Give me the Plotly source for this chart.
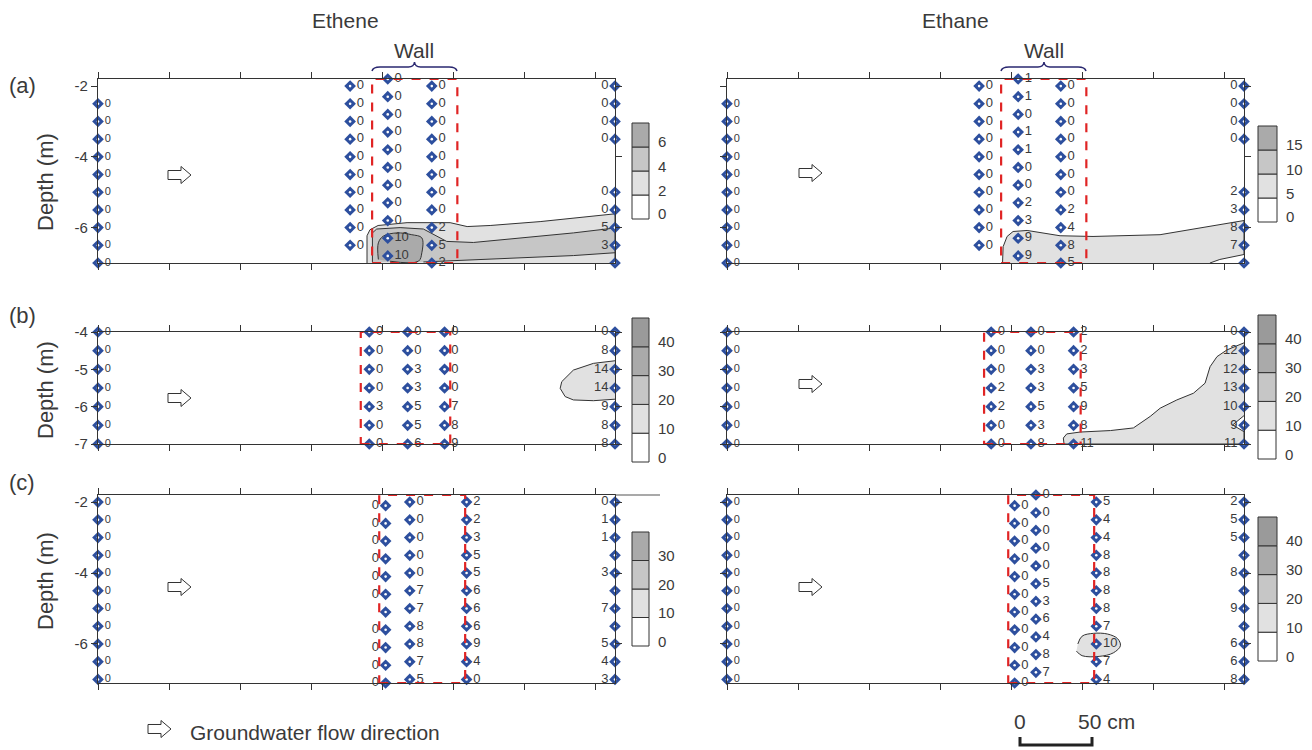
import plotly.graph_objects as go

W, H = 1312, 750
OX, OY = 8, 8   # page offset compensation

# ---------------- sampling depths (m) ----------------
DEPTH_A_EDGE = [-2.5, -3.0, -3.5, -4.0, -4.5, -5.0, -5.5, -6.0, -6.5, -7.0]
DEPTH_A_MID = [-2.0, -2.5, -3.0, -3.5, -4.0, -4.5, -5.0, -5.5, -6.0, -6.5]
DEPTH_OFFSET = [-1.8, -2.3, -2.8, -3.3, -3.8, -4.3, -4.8, -5.3, -5.8, -6.3, -6.8]
DEPTH_FULL = [-2.0, -2.5, -3.0, -3.5, -4.0, -4.5, -5.0, -5.5, -6.0, -6.5, -7.0]
DEPTH_A_RIGHT = [-2.0, -2.5, -3.0, -3.5, -5.0, -5.5, -6.0, -6.5, -7.0]
DEPTH_B = [-4.0, -4.5, -5.0, -5.5, -6.0, -6.5, -7.0]
DEPTH_B_OUT = [-3.5, -7.5]
DEPTH_C_WALL = [-2.1, -2.6, -3.1, -3.6, -4.1, -4.6, -5.1, -5.6, -6.1, -6.6, -7.1]

# ---------------- well positions (cm along transect) ----------------
A_ETHENE_X = [0, 177.5, 204, 235, 364]
A_ETHANE_X = [0, 177.5, 205, 235, 364]
B_ETHENE_X = [0, 191, 218, 244, 364]
B_ETHANE_X = [0, 186, 214, 244, 364]
C_ETHENE_X = [0, 202.5, 219.5, 259.5, 364]
C_ETHANE_X = [0, 202.5, 217.5, 260, 364]

# ---------------- concentrations at each well ----------------
A_ETHENE_W1 = [0, 0, 0, 0, 0, 0, 0, 0, 0, 0]
A_ETHENE_W2 = [0, 0, 0, 0, 0, 0, 0, 0, 0, 0]
A_ETHENE_W3 = [0, 0, 0, 0, 0, 0, 0, 0, 0, 10, 10]
A_ETHENE_W4 = [0, 0, 0, 0, 0, 0, 0, 0, 2, 5, 2]
A_ETHENE_W5 = [0, 0, 0, 0, 0, 0, 5, 3, None]

A_ETHANE_W1 = [0, 0, 0, 0, 0, 0, 0, 0, 0, 0]
A_ETHANE_W2 = [0, 0, 0, 0, 0, 0, 0, 0, 0, 0]
A_ETHANE_W3 = [1, 1, 0, 1, 1, 0, 0, 2, 3, 9, 9]
A_ETHANE_W4 = [0, 0, 0, 0, 0, 0, 0, 2, 4, 8, 5]
A_ETHANE_W5 = [0, 0, 0, 0, 2, 3, 8, 7, None]

B_ETHENE_W1 = [0, 0, 0, 0, 0, 0, 0]
B_ETHENE_W2 = [0, 0, 0, 0, 3, 0, 0]
B_ETHENE_W3 = [0, 0, 3, 3, 5, 5, 6]
B_ETHENE_W4 = [0, 0, 0, 0, 7, 8, 9]
B_ETHENE_W5 = [0, 8, 14, 14, 9, 8, 8]
B_ETHENE_W2_OUT = [0, 22]
B_ETHENE_W3_OUT = [0, 14]

B_ETHANE_W1 = [0, 0, 0, 0, 0, 0, 0]
B_ETHANE_W2 = [0, 0, 0, 2, 2, 0, 0]
B_ETHANE_W3 = [0, 0, 3, 3, 5, 3, 8]
B_ETHANE_W4 = [2, 2, 3, 5, 9, 8, 11]
B_ETHANE_W5 = [0, 12, 12, 13, 10, 9, 11]
B_ETHANE_W2_OUT = [0, None]
B_ETHANE_W3_OUT = [0, None]

C_ETHENE_W1 = [0, 0, 0, 0, 0, 0, 0, 0, 0, 0, 0]
C_ETHENE_W2 = [0, 0, 0, 0, 0, 0, None, 0, 0, 0, 0]
C_ETHENE_W3 = [0, 0, 0, 0, 0, 7, 7, 8, 8, 7, 5]
C_ETHENE_W4 = [2, 2, 3, 5, 5, 6, 6, 6, 9, 4, 0]
C_ETHENE_W5 = [0, 1, 1, None, 3, None, 7, None, 5, 4, 3]

C_ETHANE_W1 = [0, 0, 0, 0, 0, 0, 0, 0, 0, 0, 0]
C_ETHANE_W2 = [0, 0, 0, 0, 0, 0, 0, 0, 0, 0, 0]
C_ETHANE_W3 = [0, 0, 0, 0, 0, 5, 3, 6, 4, 8, 7]
C_ETHANE_W4 = [5, 4, 4, 8, 8, 8, 8, 7, 10, 7, 4]
C_ETHANE_W5 = [2, 5, 5, None, 8, None, 9, None, 6, 6, 8]

# ---------------- wall extents (cm) ----------------
WALL_A = [193, 253]
WALL_B_ETHENE = [185, 248]
WALL_B_ETHANE = [181, 249]
WALL_C = [198, 258.5]

# ---------------- contour regions (cm, m) ----------------
A_ETHENE_LOW_X = [189.4, 189.4, 191.5, 197.2, 217.6, 247.9, 259.9, 276.1, 311.3, 364, 364]
A_ETHENE_LOW_Y = [-7.0, -6.23, -6.06, -5.94, -5.86, -5.86, -5.97, -5.94, -5.83, -5.61, -7.0]
A_ETHENE_MID_X = [193.2, 193.2, 196.2, 212.7, 229.1, 236.2, 245.5, 264.3, 299.5, 334.7, 364,
                  364, 334.7, 299.5, 264.3, 240.8, 229.1]
A_ETHENE_MID_Y = [-6.97, -6.15, -6.04, -6.0, -6.04, -6.2, -6.39, -6.42, -6.29, -6.15, -6.01,
                  -6.71, -6.79, -6.85, -6.9, -6.95, -6.97]
A_ETHENE_HIGH_X = [197.4, 197.4, 200.9, 210.4, 220.9, 228, 228, 225.6, 205.6]
A_ETHENE_HIGH_Y = [-6.9, -6.43, -6.24, -6.15, -6.2, -6.29, -6.71, -6.95, -6.95]

A_ETHANE_LOW_X = [194, 194.4, 197.2, 201.4, 211.3, 234.5, 257.7, 304.9, 364, 364, 347, 340]
A_ETHANE_LOW_Y = [-7.0, -6.54, -6.25, -6.11, -6.08, -6.23, -6.25, -6.2, -5.8, -6.76, -6.9, -7.0]

B_ETHENE_LOW_X = [364, 348.8, 334.7, 326.5, 325.4, 328.9, 334.7, 348.8, 364]
B_ETHENE_LOW_Y = [-4.77, -4.84, -5.02, -5.33, -5.51, -5.73, -5.82, -5.84, -5.8]

B_ETHANE_LOW_X = [364, 352, 345, 340.1, 336.6, 328.4, 316.7, 305, 298, 286.1, 270, 248.6, 239.2,
                  236.8, 237.3, 364, 364, 356, 364]
B_ETHANE_LOW_Y = [-4.29, -4.48, -4.66, -4.93, -5.37, -5.64, -5.82, -6.04, -6.26, -6.57, -6.64,
                  -6.68, -6.73, -6.84, -7.0, -7.0, -6.67, -6.49, -6.24]

C_ETHANE_LOW_X = [247, 250, 258, 268, 275, 277, 272, 262, 250, 246]
C_ETHANE_LOW_Y = [-6.0, -5.78, -5.7, -5.72, -5.85, -6.05, -6.25, -6.35, -6.33, -6.2]

# ---------------- legend levels ----------------
LEVELS_A_ETHENE = [0, 2, 4, 6]
LEVELS_A_ETHANE = [0, 5, 10, 15]
LEVELS_B_ETHENE = [0, 10, 20, 30, 40]
LEVELS_B_ETHANE = [0, 10, 20, 30, 40]
LEVELS_C_ETHENE = [0, 10, 20, 30]
LEVELS_C_ETHANE = [0, 10, 20, 30, 40]

COLUMN_TITLES = ["Ethene", "Ethane"]
ROW_TAGS = ["(a)", "(b)", "(c)"]
X_TICKS = [0, 50, 100, 150, 200, 250, 300, 350]
Y_TICKS = [[-2, -4, -6], [-4, -5, -6, -7], [-2, -4, -6]]
Y_RANGES = [[-7.0, -1.8], [-7.0, -4.0], [-7.1, -1.8]]

# ---------------- styling / layout geometry ----------------
LIGHT, MID, DARK, DARKEST = "#e1e1e1", "#c6c6c6", "#aaaaaa", "#9a9a9a"
CELL_COLORS = ["#ffffff", LIGHT, MID, DARK, DARKEST]
MARKER_BLUE = "#2d4f9e"
FADED_BLUE = "#a3b4dc"
TXT = "#3a3a3a"
WALL_RED = "#e02424"
NUM_FONT = "Liberation Sans Narrow, Liberation Sans, Arial"
MAIN_FONT = "Liberation Sans, Arial"

COL_PX = [(98, 615), (727, 1244)]
ROW_PX = [(79, 263), (332, 444), (495, 683)]
LEGEND_PX = [(632, 649, 123, 219), (1258, 1277, 126, 222),
             (632, 649, 318, 462), (1258, 1276, 315, 459),
             (632, 649, 532, 646), (1258, 1277, 517, 661)]
ARROW_PX = [(168, 175), (799, 173), (168, 398), (799, 384), (168, 587), (799, 587)]


def px(x):
    return (x - OX) / W


def py(y):
    return 1 - (y - OY) / H


def wells(xs, depth_lists, values, sides, sizes):
    return [dict(x=x, d=d, v=v, side=s, size=z)
            for x, d, v, s, z in zip(xs, depth_lists, values, sides, sizes)]


PANELS = [
    dict(wells=wells(A_ETHENE_X, [DEPTH_A_EDGE, DEPTH_A_MID, DEPTH_OFFSET, DEPTH_FULL, DEPTH_A_RIGHT],
                     [A_ETHENE_W1, A_ETHENE_W2, A_ETHENE_W3, A_ETHENE_W4, A_ETHENE_W5],
                     "RRRRL", [11, 13, 13, 13, 13]),
         polys=[(A_ETHENE_LOW_X, A_ETHENE_LOW_Y, LIGHT, False),
                (A_ETHENE_MID_X, A_ETHENE_MID_Y, MID, False),
                (A_ETHENE_HIGH_X, A_ETHENE_HIGH_Y, DARK, True)],
         wall=WALL_A, levels=LEVELS_A_ETHENE, out=None),
    dict(wells=wells(A_ETHANE_X, [DEPTH_A_EDGE, DEPTH_A_MID, DEPTH_OFFSET, DEPTH_FULL, DEPTH_A_RIGHT],
                     [A_ETHANE_W1, A_ETHANE_W2, A_ETHANE_W3, A_ETHANE_W4, A_ETHANE_W5],
                     "RRRRL", [11, 13, 13, 13, 13]),
         polys=[(A_ETHANE_LOW_X, A_ETHANE_LOW_Y, LIGHT, False)],
         wall=WALL_A, levels=LEVELS_A_ETHANE, out=None),
    dict(wells=wells(B_ETHENE_X, [DEPTH_B] * 5,
                     [B_ETHENE_W1, B_ETHENE_W2, B_ETHENE_W3, B_ETHENE_W4, B_ETHENE_W5],
                     "RRRRL", [11, 13, 13, 13, 13]),
         polys=[(B_ETHENE_LOW_X, B_ETHENE_LOW_Y, LIGHT, False)],
         wall=WALL_B_ETHENE, levels=LEVELS_B_ETHENE,
         out=[(B_ETHENE_X[1], B_ETHENE_W2_OUT), (B_ETHENE_X[2], B_ETHENE_W3_OUT)]),
    dict(wells=wells(B_ETHANE_X, [DEPTH_B] * 5,
                     [B_ETHANE_W1, B_ETHANE_W2, B_ETHANE_W3, B_ETHANE_W4, B_ETHANE_W5],
                     "RRRRL", [11, 13, 13, 13, 13]),
         polys=[(B_ETHANE_LOW_X, B_ETHANE_LOW_Y, LIGHT, False)],
         wall=WALL_B_ETHANE, levels=LEVELS_B_ETHANE,
         out=[(B_ETHANE_X[1], B_ETHANE_W2_OUT), (B_ETHANE_X[2], B_ETHANE_W3_OUT)]),
    dict(wells=wells(C_ETHENE_X, [DEPTH_FULL, DEPTH_C_WALL, DEPTH_FULL, DEPTH_FULL, DEPTH_FULL],
                     [C_ETHENE_W1, C_ETHENE_W2, C_ETHENE_W3, C_ETHENE_W4, C_ETHENE_W5],
                     "RLRRL", [11, 13, 13, 13, 13]),
         polys=[],
         wall=WALL_C, levels=LEVELS_C_ETHENE, out=None),
    dict(wells=wells(C_ETHANE_X, [DEPTH_FULL, DEPTH_C_WALL, DEPTH_OFFSET, DEPTH_FULL, DEPTH_FULL],
                     [C_ETHANE_W1, C_ETHANE_W2, C_ETHANE_W3, C_ETHANE_W4, C_ETHANE_W5],
                     "RRRRL", [11, 13, 13, 13, 13]),
         polys=[(C_ETHANE_LOW_X, C_ETHANE_LOW_Y, LIGHT, True)],
         wall=WALL_C, levels=LEVELS_C_ETHANE, out=None),
]

fig = go.Figure()
shapes = []
annotations = []
layout_axes = {}


def add_points(xs, ys, labels, side, size, blue, txt_color, xr, yr):
    # filled diamond with a small white centre, value written beside it
    fig.add_trace(go.Scatter(
        x=xs, y=ys, mode="markers+text",
        text=["" if v is None else str(v) for v in labels],
        textposition="middle left" if side == "L" else "middle right",
        textfont=dict(size=size, color=txt_color, family=NUM_FONT),
        marker=dict(symbol="diamond", size=9, color=blue, line=dict(width=0)),
        cliponaxis=False, xaxis=xr, yaxis=yr, hoverinfo="skip"))
    fig.add_trace(go.Scatter(
        x=xs, y=ys, mode="markers",
        marker=dict(symbol="circle", size=2.6, color="white", line=dict(width=0)),
        cliponaxis=False, xaxis=xr, yaxis=yr, hoverinfo="skip"))


for i, panel in enumerate(PANELS, start=1):
    row, col = (i - 1) // 2, (i - 1) % 2
    xr = "x" if i == 1 else f"x{i}"
    yr = "y" if i == 1 else f"y{i}"
    xkey = "xaxis" if i == 1 else f"xaxis{i}"
    ykey = "yaxis" if i == 1 else f"yaxis{i}"
    x0p, x1p = COL_PX[col]
    y0p, y1p = ROW_PX[row]
    layout_axes[xkey] = dict(domain=[px(x0p), px(x1p)], range=[0, 364], anchor=yr,
                             tickvals=X_TICKS, showticklabels=False, ticks="outside",
                             ticklen=6, tickwidth=1.2, tickcolor="#333",
                             showline=True, linecolor="#333", linewidth=1.3, mirror="ticks",
                             showgrid=False, zeroline=False, fixedrange=True, automargin=False)
    layout_axes[ykey] = dict(domain=[py(y1p), py(y0p)], range=Y_RANGES[row], anchor=xr,
                             tickvals=Y_TICKS[row],
                             ticktext=[str(t) for t in Y_TICKS[row]],
                             showticklabels=(col == 0), ticks="outside", ticklen=6,
                             tickwidth=1.2, tickcolor="#333",
                             tickfont=dict(size=15, color=TXT, family=MAIN_FONT),
                             showline=True, linecolor="#333", linewidth=1.3, mirror="ticks",
                             showgrid=False, zeroline=False, fixedrange=True, automargin=False)

    for xs, ys, fc, spline in panel["polys"]:
        fig.add_trace(go.Scatter(x=xs, y=ys, mode="lines", fill="toself", fillcolor=fc,
                                 line=dict(color="#333333", width=1,
                                           shape="spline" if spline else "linear"),
                                 xaxis=xr, yaxis=yr, hoverinfo="skip"))

    shapes.append(dict(type="rect", xref=xr, yref=yr, x0=panel["wall"][0], x1=panel["wall"][1],
                       y0=Y_RANGES[row][0], y1=Y_RANGES[row][1],
                       line=dict(color=WALL_RED, width=2.2, dash="dash"), layer="above"))

    for w in panel["wells"]:
        add_points([w["x"]] * len(w["d"]), w["d"], w["v"], w["side"], w["size"],
                   MARKER_BLUE, TXT, xr, yr)
    if panel["out"]:
        for wx, vals in panel["out"]:
            add_points([wx] * len(DEPTH_B_OUT), DEPTH_B_OUT, vals, "R", 13,
                       FADED_BLUE, "#c4c4c4", xr, yr)

    lx0, lx1, ly0, ly1 = LEGEND_PX[i - 1]
    levels = panel["levels"]
    n = len(levels)
    ch = (ly1 - ly0) / n
    for k, lev in enumerate(levels):
        cb = ly1 - k * ch
        shapes.append(dict(type="rect", xref="paper", yref="paper",
                           x0=px(lx0), x1=px(lx1), y0=py(cb), y1=py(cb - ch),
                           fillcolor=CELL_COLORS[k], line=dict(color="#333", width=1)))
        annotations.append(dict(x=px(lx1 + 7), y=py(cb - 5), xref="paper", yref="paper",
                                text=str(lev), showarrow=False, xanchor="left", yanchor="middle",
                                font=dict(size=15, color=TXT, family=MAIN_FONT)))

    ax, ay = ARROW_PX[i - 1]
    pts = [(ax, ay - 4.5), (ax + 13, ay - 4.5), (ax + 13, ay - 8.5), (ax + 23, ay),
           (ax + 13, ay + 8.5), (ax + 13, ay + 4.5), (ax, ay + 4.5)]
    path = "M " + " L ".join(f"{px(a):.5f},{py(b):.5f}" for a, b in pts) + " Z"
    shapes.append(dict(type="path", xref="paper", yref="paper", path=path,
                       fillcolor="white", line=dict(color="#333", width=1)))

bx, by = 148, 729
pts = [(bx, by - 4.5), (bx + 13, by - 4.5), (bx + 13, by - 8.5), (bx + 23, by),
       (bx + 13, by + 8.5), (bx + 13, by + 4.5), (bx, by + 4.5)]
shapes.append(dict(type="path", xref="paper", yref="paper",
                   path="M " + " L ".join(f"{px(a):.5f},{py(b):.5f}" for a, b in pts) + " Z",
                   fillcolor="white", line=dict(color="#333", width=1)))

for (bx0, bx1, bmid) in [(372, 457, 414.5), (1001, 1086, 1044)]:
    p = [("M", bx0, 71), ("Q", bx0 + 1, 67, bx0 + 8, 67), ("L", bmid - 6, 67),
         ("Q", bmid - 0.5, 67, bmid, 62), ("Q", bmid + 0.5, 67, bmid + 6, 67),
         ("L", bx1 - 8, 67), ("Q", bx1 - 1, 67, bx1, 71)]
    s = ""
    for seg in p:
        coords = seg[1:]
        s += seg[0] + " " + " ".join(f"{px(coords[j]):.5f},{py(coords[j + 1]):.5f}"
                                     for j in range(0, len(coords), 2)) + " "
    shapes.append(dict(type="path", xref="paper", yref="paper", path=s.strip(),
                       line=dict(color="#2a2870", width=1.5)))

shapes.append(dict(type="line", xref="paper", yref="paper", x0=px(615), x1=px(660),
                   y0=py(495), y1=py(495), line=dict(color="#555", width=1.2)))

shapes.append(dict(type="path", xref="paper", yref="paper",
                   path=f"M {px(1020):.5f},{py(737):.5f} L {px(1020):.5f},{py(745):.5f} "
                        f"L {px(1092):.5f},{py(745):.5f} L {px(1092):.5f},{py(737):.5f}",
                   line=dict(color="#222", width=3)))


def ann(x, y, text, size, xanchor="center", angle=0):
    annotations.append(dict(x=px(x), y=py(y), xref="paper", yref="paper", text=text,
                            showarrow=False, xanchor=xanchor, yanchor="middle", textangle=angle,
                            font=dict(size=size, color=TXT, family=MAIN_FONT)))


ann(345, 20, COLUMN_TITLES[0], 21)
ann(955, 20, COLUMN_TITLES[1], 21)
ann(414, 50, "Wall", 21)
ann(1044, 50, "Wall", 21)
for tag, yy in zip(ROW_TAGS, [86, 315, 482]):
    ann(22, yy, tag, 22)
for yy in [182, 390, 581]:
    ann(45, yy, "Depth (m)", 22, angle=-90)
ann(188, 732, "Groundwater flow direction", 21, xanchor="left")
ann(1020, 721, "0", 21)
ann(1076, 721, "50 cm", 21, xanchor="left")

fig.update_layout(template="none", width=W, height=H, autosize=False,
                  margin=dict(l=0, r=0, t=0, b=0, pad=0),
                  paper_bgcolor="white", plot_bgcolor="white", showlegend=False,
                  shapes=shapes, annotations=annotations, **layout_axes)

fig.write_html("out.html")
